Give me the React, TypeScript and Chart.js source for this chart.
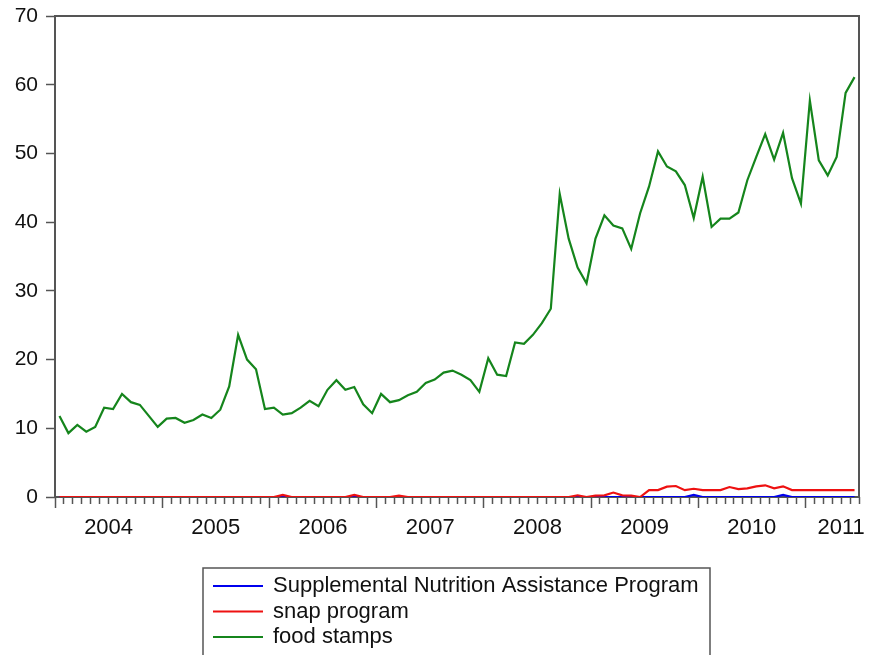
import React, { useEffect, useRef } from 'react';
import { Chart, registerables } from 'chart.js';

Chart.register(...registerables);

// Monthly observations, 2004M01 .. 2011M06
const yearLabels = ['2004', '2005', '2006', '2007', '2008', '2009', '2010', '2011'];

const foodStamps = [
  11.8, 9.3, 10.5, 9.5, 10.2, 13.0, 12.8, 15.0, 13.8, 13.4, 11.8, 10.2,
  11.4, 11.5, 10.8, 11.2, 12.0, 11.5, 12.7, 16.1, 23.6, 20.0, 18.6, 12.8,
  13.0, 12.0, 12.2, 13.0, 14.0, 13.2, 15.6, 17.0, 15.6, 16.0, 13.5, 12.2,
  15.0, 13.8, 14.1, 14.8, 15.3, 16.6, 17.1, 18.1, 18.4, 17.8, 17.0, 15.3,
  20.2, 17.8, 17.6, 22.5, 22.3, 23.6, 25.3, 27.4, 44.1, 37.6, 33.4, 31.1,
  37.6, 41.0, 39.5, 39.1, 36.1, 41.3, 45.2, 50.3, 48.1, 47.4, 45.4, 40.6,
  46.6, 39.3, 40.5, 40.5, 41.4, 46.1, 49.5, 52.8, 49.1, 53.0, 46.4, 42.7,
  57.7, 49.0, 46.8, 49.5, 58.8, 61.1,
];

const snapProgram = [
  0, 0, 0, 0, 0, 0, 0, 0, 0, 0, 0, 0,
  0, 0, 0, 0, 0, 0, 0, 0, 0, 0, 0, 0,
  0, 0.3, 0, 0, 0, 0, 0, 0, 0, 0.3, 0, 0,
  0, 0, 0.2, 0, 0, 0, 0, 0, 0, 0, 0, 0,
  0, 0, 0, 0, 0, 0, 0, 0, 0, 0, 0.25, 0,
  0.2, 0.25, 0.65, 0.25, 0.2, 0, 1.0, 1.0, 1.5, 1.6, 1.0, 1.2,
  1.0, 1.0, 1.0, 1.45, 1.15, 1.25, 1.55, 1.7, 1.25, 1.55, 1.0, 1.0,
  1.0, 1.0, 1.0, 1.0, 1.0, 1.0,
];

const supplementalNutrition = [
  0, 0, 0, 0, 0, 0, 0, 0, 0, 0, 0, 0,
  0, 0, 0, 0, 0, 0, 0, 0, 0, 0, 0, 0,
  0, 0, 0, 0, 0, 0, 0, 0, 0, 0, 0, 0,
  0, 0, 0, 0, 0, 0, 0, 0, 0, 0, 0, 0,
  0, 0, 0, 0, 0, 0, 0, 0, 0, 0, 0, 0,
  0, 0, 0, 0, 0, 0, 0, 0, 0, 0, 0, 0.3,
  0, 0, 0, 0, 0, 0, 0, 0, 0, 0.3, 0, 0,
  0, 0, 0, 0, 0, 0,
];

const seriesNames = ['Supplemental Nutrition Assistance Program', 'snap program', 'food stamps'];
const seriesColors = ['#0000ee', '#ee1111', '#15851c'];
const yMin = 0;
const yMax = 70;
const yStep = 10;

const FONT = '"Liberation Sans", Arial, Helvetica, sans-serif';
const AXIS_COLOR = '#555555';

export default function App() {
  const canvasRef = useRef<HTMLCanvasElement | null>(null);

  useEffect(() => {
    const canvas = canvasRef.current;
    if (!canvas) return;
    const n = foodStamps.length;
    const toXY = (arr: number[]) => arr.map((v, i) => ({ x: i, y: v }));

    const yearLabelAt = (k: number): string => {
      const y = Math.floor(k / 12);
      if (y >= yearLabels.length) return '';
      const start = y * 12;
      const end = Math.min(start + 12, n);
      if (end - start === 12) return k === start + 6 ? yearLabels[y] : '';
      return k === end - 2 ? yearLabels[y] : '';
    };

    const framePlugin = {
      id: 'frame',
      beforeDatasetsDraw(chart: any) {
        const { ctx, chartArea } = chart;
        ctx.save();
        ctx.strokeStyle = AXIS_COLOR;
        ctx.lineWidth = 2;
        ctx.strokeRect(chartArea.left, chartArea.top, chartArea.right - chartArea.left, chartArea.bottom - chartArea.top);
        ctx.restore();
      },
    };

    const legendPlugin = {
      id: 'boxLegend',
      afterDraw(chart: any) {
        const { ctx } = chart;
        const boxLeft = 203;
        const boxTop = 568;
        const boxWidth = 507;
        const rowTop = 586;
        const rowGap = 25.5;
        ctx.save();
        ctx.strokeStyle = AXIS_COLOR;
        ctx.lineWidth = 1.5;
        ctx.strokeRect(boxLeft, boxTop, boxWidth, 120);
        ctx.font = `22px ${FONT}`;
        ctx.textBaseline = 'middle';
        ctx.textAlign = 'left';
        chart.data.datasets.forEach((ds: any, i: number) => {
          const y = rowTop + i * rowGap;
          ctx.strokeStyle = ds.borderColor;
          ctx.lineWidth = 2;
          ctx.beginPath();
          ctx.moveTo(boxLeft + 10, y);
          ctx.lineTo(boxLeft + 60, y);
          ctx.stroke();
          ctx.fillStyle = '#111111';
          ctx.fillText(ds.label, boxLeft + 70, y);
        });
        ctx.restore();
      },
    };

    const chart = new Chart(canvas, {
      type: 'line',
      data: {
        datasets: [
          { label: seriesNames[0], data: toXY(supplementalNutrition), borderColor: seriesColors[0], order: 3 },
          { label: seriesNames[1], data: toXY(snapProgram), borderColor: seriesColors[1], order: 2 },
          { label: seriesNames[2], data: toXY(foodStamps), borderColor: seriesColors[2], order: 1 },
        ].map((d) => ({ ...d, borderWidth: 2.2, pointRadius: 0, tension: 0, fill: false })),
      },
      options: {
        responsive: false,
        animation: false,
        events: [],
        layout: { padding: { top: 16, right: 10, left: 0, bottom: 0 } },
        plugins: {
          legend: { display: false },
          tooltip: { enabled: false },
        },
        scales: {
          x: {
            type: 'linear',
            min: -0.5,
            max: n - 0.5,
            afterBuildTicks: (scale: any) => {
              const t: any[] = [];
              for (let k = 0; k <= n; k++) t.push({ value: k - 0.5 });
              scale.ticks = t;
            },
            afterFit: (scale: any) => {
              scale.height = 158;
            },
            border: { display: false },
            grid: {
              drawOnChartArea: false,
              drawTicks: true,
              tickLength: 11,
              tickWidth: 1.5,
              tickColor: AXIS_COLOR,
              tickBorderDash: (ctx: any) => {
                const k = ctx.index;
                return k % 12 === 0 ? [] : [7, 40];
              },
            },
            ticks: {
              autoSkip: false,
              maxRotation: 0,
              minRotation: 0,
              padding: 7,
              color: '#111111',
              font: { family: FONT, size: 22 },
              callback: (value: any, index: number) => yearLabelAt(index),
            },
          },
          y: {
            min: yMin,
            max: yMax,
            afterFit: (scale: any) => {
              scale.width = 55;
              scale.paddingTop = 0;
              scale.paddingBottom = 0;
            },
            border: { display: false },
            grid: {
              drawOnChartArea: false,
              tickLength: 9,
              tickWidth: 1.5,
              tickColor: AXIS_COLOR,
            },
            ticks: {
              stepSize: yStep,
              padding: 8,
              color: '#111111',
              font: { family: FONT, size: 21 },
            },
          },
        },
      },
      plugins: [framePlugin, legendPlugin],
    } as any);

    return () => chart.destroy();
  }, []);

  return (
    <div style={{ position: 'absolute', left: 0, top: 0, width: 869, height: 655, background: '#ffffff' }}>
      <canvas ref={canvasRef} width={869} height={655} />
    </div>
  );
}
